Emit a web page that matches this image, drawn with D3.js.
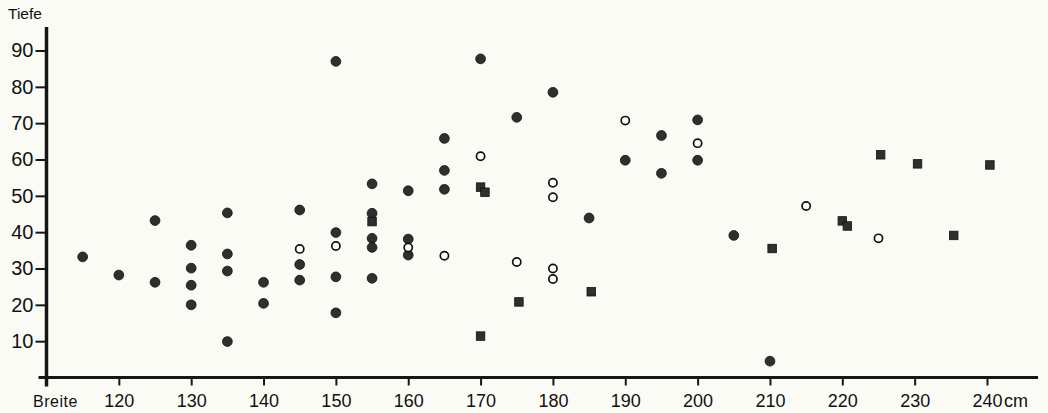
<!DOCTYPE html>
<html>
<head>
<meta charset="utf-8">
<script src="https://cdn.jsdelivr.net/npm/d3@7"></script>
<style>
  html, body { margin: 0; padding: 0; background: #fbfbf6; }
  svg { display: block; }
  text { font-family: "Liberation Sans", Arial, Helvetica, sans-serif; fill: #111; }
</style>
</head>
<body>
<div id="chart"></div>
<script>
// Breite (cm) / Tiefe values
const filledBreite = [115, 120, 125, 125, 130, 130, 130, 130, 135, 135, 135, 135, 140, 140, 145, 145, 145,
    150, 150, 150, 150, 155, 155, 155, 155, 155, 160, 160, 160, 165, 165, 165, 170, 175, 180, 185,
    190, 195, 195, 200, 200, 205, 210];
const filledTiefe = [33.2, 28.2, 43.2, 26.2, 36.4, 30.1, 25.4, 20.0, 45.3, 34.0, 29.3, 9.9, 26.2, 20.4, 46.1, 31.1, 26.8,
    87.0, 39.9, 27.7, 17.8, 53.3, 45.2, 38.3, 35.8, 27.3, 51.4, 38.1, 33.7, 65.8, 57.0, 51.8, 87.7, 71.6, 78.5, 43.9,
    59.8, 66.6, 56.2, 70.9, 59.8, 39.1, 4.5];

const openBreite = [145, 150, 160, 165, 170, 175, 180, 180, 180, 180, 190, 200, 215, 225];
const openTiefe = [35.4, 36.2, 35.8, 33.5, 60.9, 31.8, 53.6, 49.6, 30.0, 27.1, 70.7, 64.5, 47.2, 38.3];

const squareBreite = [155, 170, 170.6, 170, 175.3, 185.3, 210.3, 220, 220.7, 225.3, 230.4, 235.4, 240.4];
const squareTiefe = [42.9, 52.4, 51.0, 11.4, 20.8, 23.6, 35.5, 43.1, 41.7, 61.3, 58.8, 39.1, 58.5];

const xTicks = [120, 130, 140, 150, 160, 170, 180, 190, 200, 210, 220, 230, 240];
const yTicks = [10, 20, 30, 40, 50, 60, 70, 80, 90];

const width = 1048;
const height = 413;
const ink = '#161616';
const markFill = '#2f2f2f';

const svg = d3.select('#chart').append('svg')
    .attr('width', width)
    .attr('height', height);

const x = d3.scaleLinear().domain([110, 240]).range([46.5, 987]);
const y = d3.scaleLinear().domain([0, 90]).range([377.5, 50.5]);

// y axis ticks + labels
const yAxis = svg.append('g')
    .attr('transform', `translate(${x(110)},0)`)
    .call(d3.axisLeft(y).tickValues(yTicks).tickSize(11).tickPadding(2));
yAxis.select('.domain').remove();
yAxis.selectAll('.tick line').attr('stroke', ink).attr('stroke-width', 2);
yAxis.selectAll('.tick text')
    .style('font-size', '20px');

// x axis ticks + labels
const xAxis = svg.append('g')
    .attr('transform', `translate(0,${y(0)})`)
    .call(d3.axisBottom(x).tickValues(xTicks).tickSize(8).tickPadding(9));
xAxis.select('.domain').remove();
xAxis.selectAll('.tick line').attr('stroke', ink).attr('stroke-width', 2);
xAxis.selectAll('.tick text')
    .style('font-size', '18px');

// thick axis lines
svg.append('line')
    .attr('x1', x(110)).attr('x2', x(110))
    .attr('y1', 27).attr('y2', y(0) + 9)
    .attr('stroke', ink).attr('stroke-width', 3.5);
svg.append('line')
    .attr('x1', x(110) - 8).attr('x2', 1038)
    .attr('y1', y(0)).attr('y2', y(0))
    .attr('stroke', ink).attr('stroke-width', 3);

// axis titles
svg.append('text')
    .attr('x', 8).attr('y', 19)
    .style('font-size', '15.5px')
    .text('Tiefe');
svg.append('text')
    .attr('x', 33).attr('y', 407)
    .style('font-size', '16px')
    .style('letter-spacing', '0.5px')
    .text('Breite');
svg.append('text')
    .attr('x', x(240) + 17).attr('y', 407)
    .style('font-size', '18px')
    .text('cm');

// marks
const filled = filledBreite.map((b, i) => ({ b, t: filledTiefe[i] }));
const open = openBreite.map((b, i) => ({ b, t: openTiefe[i] }));
const squares = squareBreite.map((b, i) => ({ b, t: squareTiefe[i] }));

svg.append('g').selectAll('circle')
    .data(filled)
    .join('circle')
    .attr('cx', d => x(d.b))
    .attr('cy', d => y(d.t))
    .attr('r', 4.9)
    .attr('fill', markFill)
    .attr('stroke', '#111')
    .attr('stroke-width', 0.8);

svg.append('g').selectAll('circle')
    .data(open)
    .join('circle')
    .attr('cx', d => x(d.b))
    .attr('cy', d => y(d.t))
    .attr('r', 4.1)
    .attr('fill', '#fdfdfa')
    .attr('stroke', '#111')
    .attr('stroke-width', 1.7);

const sq = 8.5;
svg.append('g').selectAll('rect')
    .data(squares)
    .join('rect')
    .attr('x', d => x(d.b) - sq / 2)
    .attr('y', d => y(d.t) - sq / 2)
    .attr('width', sq)
    .attr('height', sq)
    .attr('fill', markFill)
    .attr('stroke', '#111')
    .attr('stroke-width', 0.8);
</script>
</body>
</html>
